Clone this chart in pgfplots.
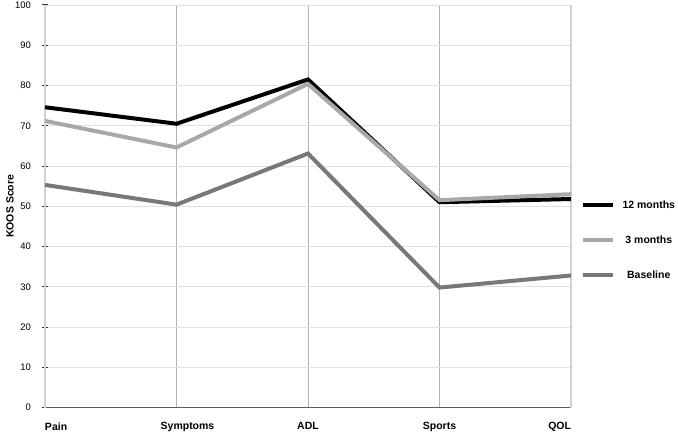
\documentclass[border=0pt]{standalone}
\usepackage{fontspec}
\setmainfont{Liberation Sans}
\usepackage{pgfplots}
\pgfplotsset{compat=1.18}
\definecolor{twelve}{HTML}{000000}
\definecolor{three}{HTML}{A8A8A8}
\definecolor{base}{HTML}{787878}
\begin{document}
\begin{tikzpicture}
\useasboundingbox (-45pt,-24.5pt) rectangle (633pt,407.5pt);
\begin{axis}[
    at={(0,0)}, anchor=south west,
    scale only axis, width=526pt, height=402.5pt,
    xmin=0, xmax=4, ymin=0, ymax=100,
    axis x line*=bottom, axis y line*=left,
    x axis line style={-, draw=black!65, line width=1.5pt},
    y axis line style={-, draw=black!20, line width=1pt},
    xtick={1,2,3},
    xticklabels={\hspace{22pt}Symptoms, ADL, Sports},
    extra x ticks={0,4},
    extra x tick labels={\makebox[0pt][l]{Pain}, \makebox[0pt][r]{QOL}},
    extra x tick style={x grid style={draw=black!18, line width=1.6pt}},
    ytick={0,10,...,100},
    grid=major,
    x grid style={draw=black!30, line width=0.8pt},
    y grid style={draw=black!12, line width=0.8pt},
    xtick style={draw=none},
    ytick style={draw=black!80, line width=1pt},
    major tick length=5pt, tick align=center,
    /pgf/number format/assume math mode=true,
    xticklabel style={font=\fontsize{10.5}{12}\selectfont\bfseries, yshift=-9pt},
    yticklabel style={font=\fontsize{9.5}{11}\selectfont, xshift=-8pt},
    ylabel={KOOS Score},
    ylabel style={font=\fontsize{10.5}{12}\selectfont\bfseries, at={(axis description cs:0,0.5)}, anchor=center, yshift=35pt},
    legend cell align=center,
    legend image code/.code={\draw[#1] (0pt,0pt) -- (30pt,0pt);},
    legend style={draw=none, fill=none, at={(axis description cs:1.012,0.416)}, anchor=west,
        font=\fontsize{10.5}{12}\selectfont\bfseries, row sep=22pt,
        /tikz/every odd column/.append style={column sep=6pt}},
]
\addplot[twelve, line width=4pt] coordinates {(0,74.6) (1,70.5) (2,81.5) (3,51.0) (4,51.8)};
\addlegendentry{12 months}
\addplot[three, line width=4pt] coordinates {(0,71.2) (1,64.6) (2,80.4) (3,51.5) (4,53.0)};
\addlegendentry{3 months}
\addplot[base, line width=4pt] coordinates {(0,55.3) (1,50.4) (2,63.1) (3,29.8) (4,32.8)};
\addlegendentry{Baseline}
\end{axis}
\end{tikzpicture}
\end{document}
